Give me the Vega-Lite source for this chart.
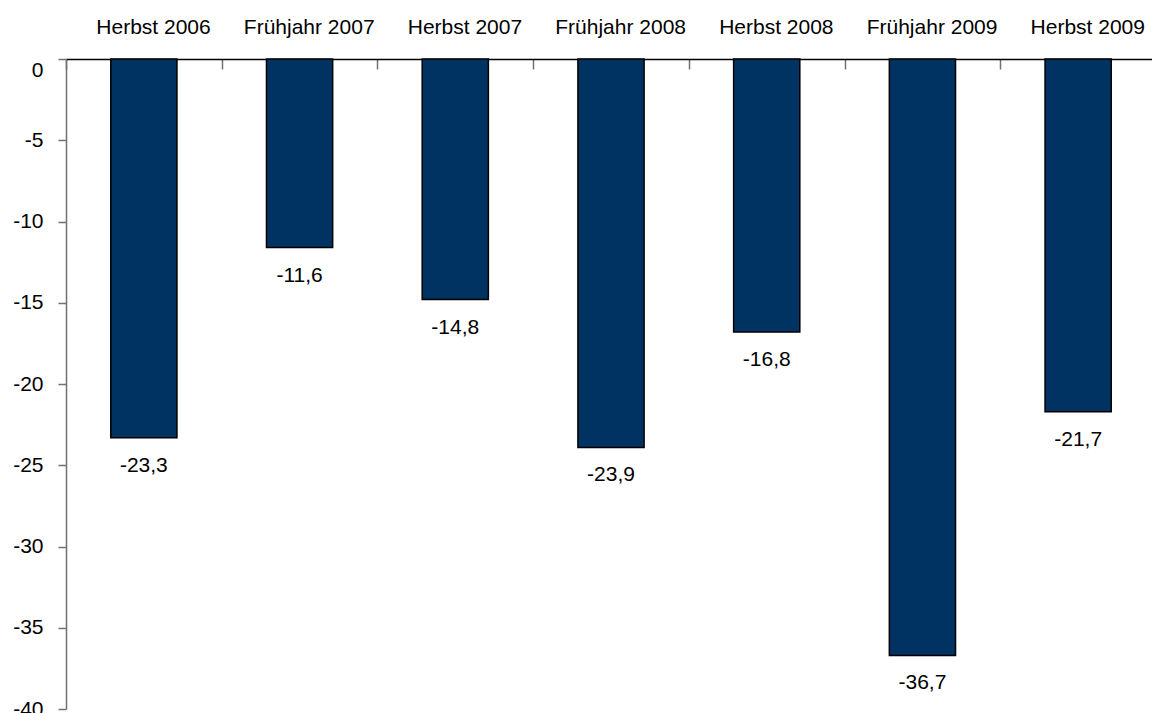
{
  "$schema": "https://vega.github.io/schema/vega-lite/v6.json",
  "width": 1086,
  "height": 650,
  "autosize": "none",
  "padding": {"left": 66, "top": 59, "right": 0, "bottom": 4},
  "background": "white",
  "config": {
    "view": {"stroke": null},
    "font": "Liberation Sans",
    "locale": {"number": {"decimal": ",", "thousands": ".", "grouping": [3], "currency": ["", " €"], "minus": "-"}}
  },
  "data": {"values": [
    {"period": "Herbst 2006", "value": -23.3},
    {"period": "Frühjahr 2007", "value": -11.6},
    {"period": "Herbst 2007", "value": -14.8},
    {"period": "Frühjahr 2008", "value": -23.9},
    {"period": "Herbst 2008", "value": -16.8},
    {"period": "Frühjahr 2009", "value": -36.7},
    {"period": "Herbst 2009", "value": -21.7}
  ]},
  "encoding": {
    "x": {
      "field": "period", "type": "nominal", "sort": null,
      "scale": {"paddingInner": 0.575, "paddingOuter": 0.2875, "range": [0, 1090]},
      "axis": {
        "orient": "top", "title": null, "labelAngle": 0,
        "labelFontSize": 21, "labelColor": "black", "labelFont": "Liberation Sans",
        "labelPadding": 32, "tickOffset": -77.86, "labelOffset": 87,
        "tickSize": -10, "tickColor": "#707070", "tickWidth": 1.5,
        "domainColor": "black", "domainWidth": 1.5
      }
    },
    "y": {
      "field": "value", "type": "quantitative",
      "scale": {"domain": [-40, 0], "nice": false, "zero": false},
      "axis": {
        "title": null, "values": [0, -5, -10, -15, -20, -25, -30, -35, -40], "format": "d",
        "grid": false, "labelFontSize": 21, "labelColor": "black", "labelFont": "Liberation Sans",
        "labelPadding": 15, "tickSize": 8, "tickColor": "#707070", "tickWidth": 1.5,
        "domainColor": "#707070", "domainWidth": 1.5,
        "labelBaseline": {"condition": {"test": "datum.value === 0", "value": "top"}, "value": "middle"}
      }
    }
  },
  "layer": [
    {
      "mark": {"type": "bar", "color": "#003262", "stroke": "black", "strokeWidth": 1.5},
      "encoding": {"y2": {"datum": 0}}
    },
    {
      "mark": {"type": "text", "baseline": "top", "dy": 17, "fontSize": 21, "color": "black", "font": "Liberation Sans"},
      "encoding": {"text": {"field": "value", "type": "quantitative", "format": ".1f"}}
    }
  ]
}
